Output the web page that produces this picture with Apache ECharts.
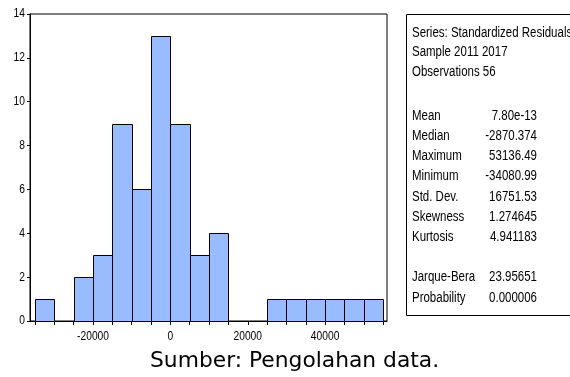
<!DOCTYPE html>
<html>
<head>
<meta charset="utf-8">
<script src="https://cdn.jsdelivr.net/npm/echarts@6/dist/echarts.min.js"></script>
<style>
html,body{margin:0;padding:0;background:#fff;}
#chart{width:570px;height:377px;}
</style>
</head>
<body>
<div id="chart"></div>
<script>
// Histogram bins (left edge of each bin) and frequencies
const binStarts = [-35000, -25000, -20000, -15000, -10000, -5000, 0, 5000, 10000, 25000, 30000, 35000, 40000, 45000, 50000];
const binWidth = 5000;
const counts = [1, 2, 3, 9, 6, 13, 9, 3, 4, 1, 1, 1, 1, 1, 1];

// Axis tick positions and labels
const xTickValues = [-35000, -30000, -25000, -20000, -15000, -10000, -5000, 0, 5000, 10000, 15000, 20000, 25000, 30000, 35000, 40000, 45000, 50000, 55000];
const xLabelValues = [-20000, 0, 20000, 40000];
const yTickValues = [0, 2, 4, 6, 8, 10, 12, 14];

// Statistics box
const headerLines = ['Series: Standardized Residuals', 'Sample 2011 2017', 'Observations 56'];
const statLabels = ['Mean', 'Median', 'Maximum', 'Minimum', 'Std. Dev.', 'Skewness', 'Kurtosis', '', 'Jarque-Bera', 'Probability'];
const statValues = ['7.80e-13', '-2870.374', '53136.49', '-34080.99', '16751.53', '1.274645', '4.941183', '', '23.95651', '0.000006'];

const caption = 'Sumber: Pengolahan data.';

// Arial-Narrow look: Liberation Sans squeezed horizontally
const narrowFamily = '"Liberation Sans", Arial, sans-serif';
const narrowScale = 0.82;

const chart = echarts.init(document.getElementById('chart'), null, {renderer: 'canvas'});

const histData = binStarts.map((s, i) => [s, s + binWidth, counts[i]]);

chart.setOption({
  animation: false,
  backgroundColor: '#fff',
  grid: {left: 30, top: 14, right: 183, bottom: 56, show: true, borderColor: '#000', borderWidth: 1, backgroundColor: 'transparent'},
  xAxis: {
    type: 'value',
    min: -36300,
    max: 56000,
    splitLine: {show: false},
    axisLine: {show: true, onZero: false, lineStyle: {color: '#000', width: 1}},
    axisTick: {show: true, length: 4, lineStyle: {color: '#000'}, customValues: xTickValues},
    axisLabel: {show: false}
  },
  yAxis: {
    type: 'value',
    min: 0,
    max: 14,
    interval: 2,
    splitLine: {show: false},
    axisLine: {show: true, onZero: false, lineStyle: {color: '#000', width: 1}},
    axisTick: {show: true, length: 3, lineStyle: {color: '#000'}, customValues: yTickValues},
    axisLabel: {show: false}
  },
  series: [{
    type: 'custom',
    data: histData,
    encode: {x: [0, 1], y: 2},
    renderItem: function (params, api) {
      const p0 = api.coord([api.value(0), 0]);
      const p1 = api.coord([api.value(1), api.value(2)]);
      const x0 = Math.round(p0[0]) + 0.5;
      const x1 = Math.round(p1[0]) + 0.5;
      const yTop = Math.round(p1[1]) + 0.5;
      const yBot = Math.round(p0[1]) + 0.5;
      return {
        type: 'rect',
        shape: {x: x0, y: yTop, width: x1 - x0, height: yBot - yTop},
        style: {fill: '#99BBFF', stroke: '#000', lineWidth: 1}
      };
    }
  }]
});

// Build text elements (axis labels placed through the chart's own scales)
const graphics = [];
function narrowText(t, x, y, size, align, vAlign) {
  return {
    type: 'text', x: x, y: y, scaleX: narrowScale, z: 11,
    style: {text: t, font: size + 'px ' + narrowFamily, fill: '#000', align: align, verticalAlign: vAlign}
  };
}
xLabelValues.forEach(v => {
  const p = chart.convertToPixel({gridIndex: 0}, [v, 0]);
  graphics.push(narrowText(String(v), p[0], p[1] + 9, 12.5, 'center', 'top'));
});
yTickValues.forEach(v => {
  const p = chart.convertToPixel({gridIndex: 0}, [-36300, v]);
  graphics.push(narrowText(String(v), p[0] - 5, p[1], 12.5, 'right', 'middle'));
});

// stats box
graphics.push({
  type: 'rect',
  shape: {x: 406.5, y: 14.5, width: 200, height: 301},
  style: {fill: '#fff', stroke: '#000', lineWidth: 1},
  z: 10
});
const headerY = [33, 52.5, 72];
headerLines.forEach((t, i) => graphics.push(narrowText(t, 412, headerY[i], 14, 'left', 'middle')));
const statTop = 116, statStep = 20.2;
statLabels.forEach((t, i) => {
  if (!t) return;
  const y = statTop + i * statStep;
  graphics.push(narrowText(t, 412, y, 14, 'left', 'middle'));
  graphics.push(narrowText(statValues[i], 537, y, 14, 'right', 'middle'));
});
graphics.push({
  type: 'text', x: 150, y: 361, z: 11,
  style: {text: caption, font: '21.8px "DejaVu Sans", sans-serif', fill: '#000', verticalAlign: 'middle', align: 'left'}
});

chart.setOption({graphic: graphics});
</script>
</body>
</html>
